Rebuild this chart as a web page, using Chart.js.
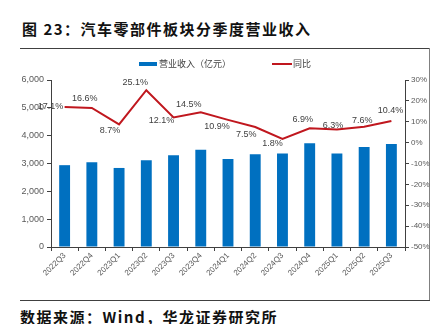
<!DOCTYPE html>
<html>
<head>
<meta charset="utf-8">
<script src="https://cdn.jsdelivr.net/npm/chart.js@4"></script>
<style>
  html, body { margin: 0; padding: 0; background: #fff; width: 433px; height: 324px; overflow: hidden; }
  #title { position: absolute; left: 22px; top: 18px; font-family: "Noto Sans CJK SC"; font-weight: bold; font-size: 15px; letter-spacing: 1.5px; color: #111; white-space: nowrap; line-height: 22px; }
  #source { position: absolute; left: 20px; top: 306px; font-family: "Noto Sans CJK SC"; font-weight: bold; font-size: 15px; letter-spacing: 1.5px; color: #111; white-space: nowrap; line-height: 22px; }
  .hl { position: absolute; height: 1px; background: #404040; }
  .vl { position: absolute; width: 1px; background: #808080; }
  #wrap { position: absolute; left: 0; top: 48px; width: 433px; height: 252px; }
</style>
</head>
<body>
<div id="title">图 23：汽车零部件板块分季度营业收入</div>
<div class="hl" style="left:20px; top:48px; width:410px;"></div>
<div class="vl" style="left:429px; top:48px; height:252px;"></div>
<div class="hl" style="left:20px; top:300px; width:410px;"></div>
<div id="wrap"><canvas id="c"></canvas></div>
<div id="source">数据来源：Wind，华龙证券研究所</div>
<script>
const quarters = ['2022Q3','2022Q4','2023Q1','2023Q2','2023Q3','2023Q4','2024Q1','2024Q2','2024Q3','2024Q4','2025Q1','2025Q2','2025Q3'];
const revenue = [2940, 3045, 2840, 3120, 3300, 3490, 3165, 3335, 3355, 3730, 3355, 3590, 3705];
const yoy = [17.1, 16.6, 8.7, 25.1, 12.1, 14.5, 10.9, 7.5, 1.8, 6.9, 6.3, 7.6, 10.4];
const leftTicks = [0, 1000, 2000, 3000, 4000, 5000, 6000];
const rightTicks = [-50, -40, -30, -20, -10, 0, 10, 20, 30];
const seriesNames = ['营业收入（亿元）', '同比'];

// label offsets (style only): [dx, dy] of the text centre from the point
const labelOffsets = [[-14,0],[-7,-9],[-9,6],[-11,-8],[-12,3],[-12,-8],[-11,7],[-9,8],[-10,5],[-7,-9],[-4,-4],[-2,-6],[-1,-10]];

const BLUE = '#0070C0';
const RED = '#C0171E';
const AXIS = '#404040';
const TXT = '#595959';

const labelPlugin = {
  id: 'yoyLabels',
  afterDatasetsDraw(chart) {
    const meta = chart.getDatasetMeta(0);
    const ctx = chart.ctx;
    ctx.save();
    ctx.font = '9px "Liberation Sans"';
    ctx.fillStyle = '#404040';
    ctx.textAlign = 'center';
    ctx.textBaseline = 'middle';
    meta.data.forEach((pt, i) => {
      const o = labelOffsets[i];
      ctx.fillText(yoy[i].toFixed(1) + '%', pt.x + o[0], pt.y + o[1]);
    });
    ctx.restore();
  }
};

const legendPlugin = {
  id: 'customLegend',
  afterDraw(chart) {
    const ctx = chart.ctx;
    ctx.save();
    const y = 16;
    ctx.fillStyle = BLUE;
    ctx.fillRect(139, y - 2, 18, 4);
    ctx.font = '9px "Noto Sans CJK SC"';
    ctx.fillStyle = '#404040';
    ctx.textAlign = 'left';
    ctx.textBaseline = 'middle';
    ctx.fillText(seriesNames[0], 159, y);
    ctx.strokeStyle = RED;
    ctx.lineWidth = 2;
    ctx.beginPath();
    ctx.moveTo(272, y);
    ctx.lineTo(292, y);
    ctx.stroke();
    ctx.fillText(seriesNames[1], 293, y);
    ctx.restore();
  }
};

new Chart(document.getElementById('c'), {
  type: 'bar',
  data: {
    labels: quarters,
    datasets: [
      {
        type: 'line',
        label: seriesNames[1],
        data: yoy,
        yAxisID: 'y1',
        borderColor: RED,
        backgroundColor: RED,
        borderWidth: 2,
        pointRadius: 0,
        tension: 0,
        order: 0
      },
      {
        type: 'bar',
        label: seriesNames[0],
        data: revenue,
        yAxisID: 'y',
        backgroundColor: BLUE,
        barPercentage: 0.8,
        categoryPercentage: 0.5,
        order: 1
      }
    ]
  },
  options: {
    responsive: true,
    maintainAspectRatio: false,
    animation: false,
    layout: { padding: { top: 32, left: 0, right: 0, bottom: 0 } },
    plugins: {
      legend: { display: false },
      tooltip: { enabled: false }
    },
    scales: {
      x: {
        grid: { display: true, drawOnChartArea: false, drawTicks: true, tickLength: 4, color: AXIS, offset: true },
        border: { display: true, color: AXIS },
        ticks: { autoSkip: false, minRotation: 45, maxRotation: 45, color: TXT, font: { family: 'Liberation Sans', size: 8 }, padding: 0 },
        afterFit(s) { s.height = 53; }
      },
      y: {
        position: 'left',
        min: 0, max: 6000,
        afterBuildTicks(s) { s.ticks = leftTicks.map(v => ({ value: v })); },
        grid: { display: true, drawOnChartArea: false, drawTicks: true, tickLength: 4, color: AXIS },
        border: { display: true, color: AXIS },
        ticks: { color: TXT, font: { family: 'Liberation Sans', size: 9 }, padding: 3,
          callback: v => v.toLocaleString('en-US') },
        afterFit(s) { s.width = 51; }
      },
      y1: {
        position: 'right',
        min: -50, max: 30,
        afterBuildTicks(s) { s.ticks = rightTicks.map(v => ({ value: v })); },
        grid: { display: true, drawOnChartArea: false, drawTicks: true, tickLength: 4, color: AXIS },
        border: { display: true, color: AXIS },
        ticks: { color: TXT, font: { family: 'Liberation Sans', size: 8 }, padding: 2,
          callback: v => v + '%' },
        afterFit(s) { s.width = 28; }
      }
    }
  },
  plugins: [labelPlugin, legendPlugin]
});
</script>
</body>
</html>
